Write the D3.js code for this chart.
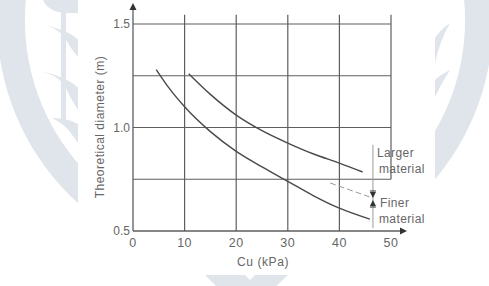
<!DOCTYPE html>
<html><head><meta charset="utf-8">
<script src="https://cdn.jsdelivr.net/npm/d3@7"></script>
<style>html,body{margin:0;padding:0;background:#fff;}svg{display:block;}</style>
</head><body>
<script>
const xTicks = [0, 10, 20, 30, 40, 50];
const yTickLabels = [1.5, 1.0, 0.5];
const yGrid = [1.5, 1.25, 1.0, 0.75];
const xGrid = [10, 20, 30, 40];
const finerCurve = [[4.5,1.28],[7,1.19],[10,1.10],[15,0.98],[20,0.885],[25,0.81],[30,0.74],[35,0.67],[40,0.61],[45.9,0.557]];
const largerCurve = [[10.8,1.26],[15,1.16],[20,1.06],[25,0.985],[30,0.925],[35,0.872],[40,0.828],[44.5,0.785]];
const dashedGuide = [[38.2,0.732],[45.8,0.665]];
const bracketX = 46.5;
const labels = [["Larger","material"],["Finer","material"]];

const W = 489, H = 286;
const svg = d3.select("body").append("svg").attr("width", W).attr("height", H);
const ink = "#5e5e5e", txt = "#666";

// watermark (outside chart panel)
svg.append("clipPath").attr("id","wm").append("path")
  .attr("d", `M0,0H${W}V${H}H0Z M78,0V270H435V0Z`).attr("clip-rule","evenodd");
const wm = svg.append("g").attr("clip-path","url(#wm)").attr("fill","#dfe5ea");
wm.append("path").attr("fill-rule","evenodd")
  .attr("d", d3.arc()({innerRadius:220, outerRadius:248, startAngle:0, endAngle:2*Math.PI}))
  .attr("transform","translate(245,20)");
wm.append("rect").attr("x",61).attr("y",0).attr("width",5).attr("height",120);
wm.append("path").attr("d","M43,0 Q48,12 66,13 L78,13 L78,0Z");
wm.append("path").attr("d","M36,23 Q55,26 64,36 Q70,48 78,57 L78,40 Q70,30 36,23Z");
wm.append("path").attr("d","M37,70 Q55,74 64,84 Q70,98 78,110 L78,88 Q70,78 37,70Z");
wm.append("path").attr("d","M52,118 Q64,124 70,132 L78,143 L78,124 Q68,118 52,118Z");
wm.append("path").attr("d","M450,23 Q440,40 435,63 L435,38 Q440,30 450,23Z M450,70 Q442,82 435,97 L435,80 Q440,75 450,70Z");
wm.append("path").attr("d","M205,275 L245,275 L262,292 L222,292 Z M255,275 L288,275 L270,292 L238,292 Z");

const x = d3.scaleLinear().domain([0,50]).range([133,391]);
const y = d3.scaleLinear().domain([0.5,1.5]).range([231,24]);

const g = svg.append("g");
// grid
g.selectAll(".hg").data(yGrid).join("line")
  .attr("x1", x(0)).attr("x2", x(50)).attr("y1", d=>y(d)).attr("y2", d=>y(d))
  .attr("stroke", ink).attr("stroke-width",1.2);
g.selectAll(".vg").data(xGrid).join("line")
  .attr("x1", d=>x(d)).attr("x2", d=>x(d)).attr("y1", y(1.545)).attr("y2", y(0.5))
  .attr("stroke", ink).attr("stroke-width",1.2);
g.append("line").attr("x1",x(50)).attr("x2",x(50)).attr("y1",y(1.545)).attr("y2",y(0.75))
  .attr("stroke", ink).attr("stroke-width",1.2);

// axes
g.append("line").attr("x1",x(0)).attr("x2",x(0)).attr("y1",y(0.5)).attr("y2",9).attr("stroke",ink).attr("stroke-width",1.3);
g.append("path").attr("d",`M${x(0)-3.5},10 L${x(0)},3 L${x(0)+3.5},10Z`).attr("fill","#333");
g.append("line").attr("x1",x(0)).attr("x2",401).attr("y1",y(0.5)).attr("y2",y(0.5)).attr("stroke",ink).attr("stroke-width",1.3);
g.append("path").attr("d",`M400,${y(0.5)-3.5} L407,${y(0.5)} L400,${y(0.5)+3.5}Z`).attr("fill","#333");

const font = "'Liberation Sans', Arial, sans-serif";
g.selectAll(".yt").data(yTickLabels).join("text")
  .attr("x", x(0)-3).attr("y", d=>y(d)+4).attr("text-anchor","end")
  .attr("font-family",font).attr("font-size",12).attr("fill",txt)
  .text(d=>d.toFixed(1));
g.selectAll(".xt").data(xTicks).join("text")
  .attr("x", d=>x(d)).attr("y", 247).attr("text-anchor","middle")
  .attr("font-family",font).attr("font-size",12.5).attr("fill",txt).attr("letter-spacing","0.5")
  .text(d=>d);
g.append("text").attr("x",263).attr("y",266).attr("text-anchor","middle")
  .attr("font-family",font).attr("font-size",12).attr("fill",txt).attr("letter-spacing","0.6").text("Cu (kPa)");
g.append("text").attr("transform","translate(104,127) rotate(-90)").attr("text-anchor","middle")
  .attr("font-family",font).attr("font-size",12).attr("fill",txt).attr("letter-spacing","0.5").text("Theoretical diameter (m)");

// curves
const line = d3.line().x(d=>x(d[0])).y(d=>y(d[1])).curve(d3.curveMonotoneX);
[finerCurve, largerCurve].forEach(c=>{
  g.append("path").attr("d", line(c)).attr("fill","none").attr("stroke","#4a4a4a").attr("stroke-width",1.4);
});
g.append("path").attr("d", d3.line().x(d=>x(d[0])).y(d=>y(d[1]))(dashedGuide))
  .attr("fill","none").attr("stroke","#999").attr("stroke-width",1).attr("stroke-dasharray","6,3");

// bracket
const bx = x(bracketX);
g.append("line").attr("x1",bx).attr("x2",bx).attr("y1",145).attr("y2",228).attr("stroke","#999").attr("stroke-width",1);
g.append("path").attr("d",`M${bx-3},191 H${bx+3} M${bx-3},207 H${bx+3}`).attr("stroke","#333").attr("stroke-width",1.2);
g.append("path").attr("d",`M${bx-3},192 L${bx+3},192 L${bx},198Z M${bx-3},206 L${bx+3},206 L${bx},200Z`).attr("fill","#333");

labels.forEach((lab,i)=>{
  const t = g.append("text").attr("font-family",font).attr("font-size",12).attr("fill",txt).attr("letter-spacing","0.4");
  const y0 = i===0 ? 157 : 207;
  t.append("tspan").attr("x", bx+(i===0?4:7)).attr("y",y0).text(lab[0]);
  t.append("tspan").attr("x", bx+6).attr("y",y0+16).text(lab[1]);
});
</script>
</body></html>
